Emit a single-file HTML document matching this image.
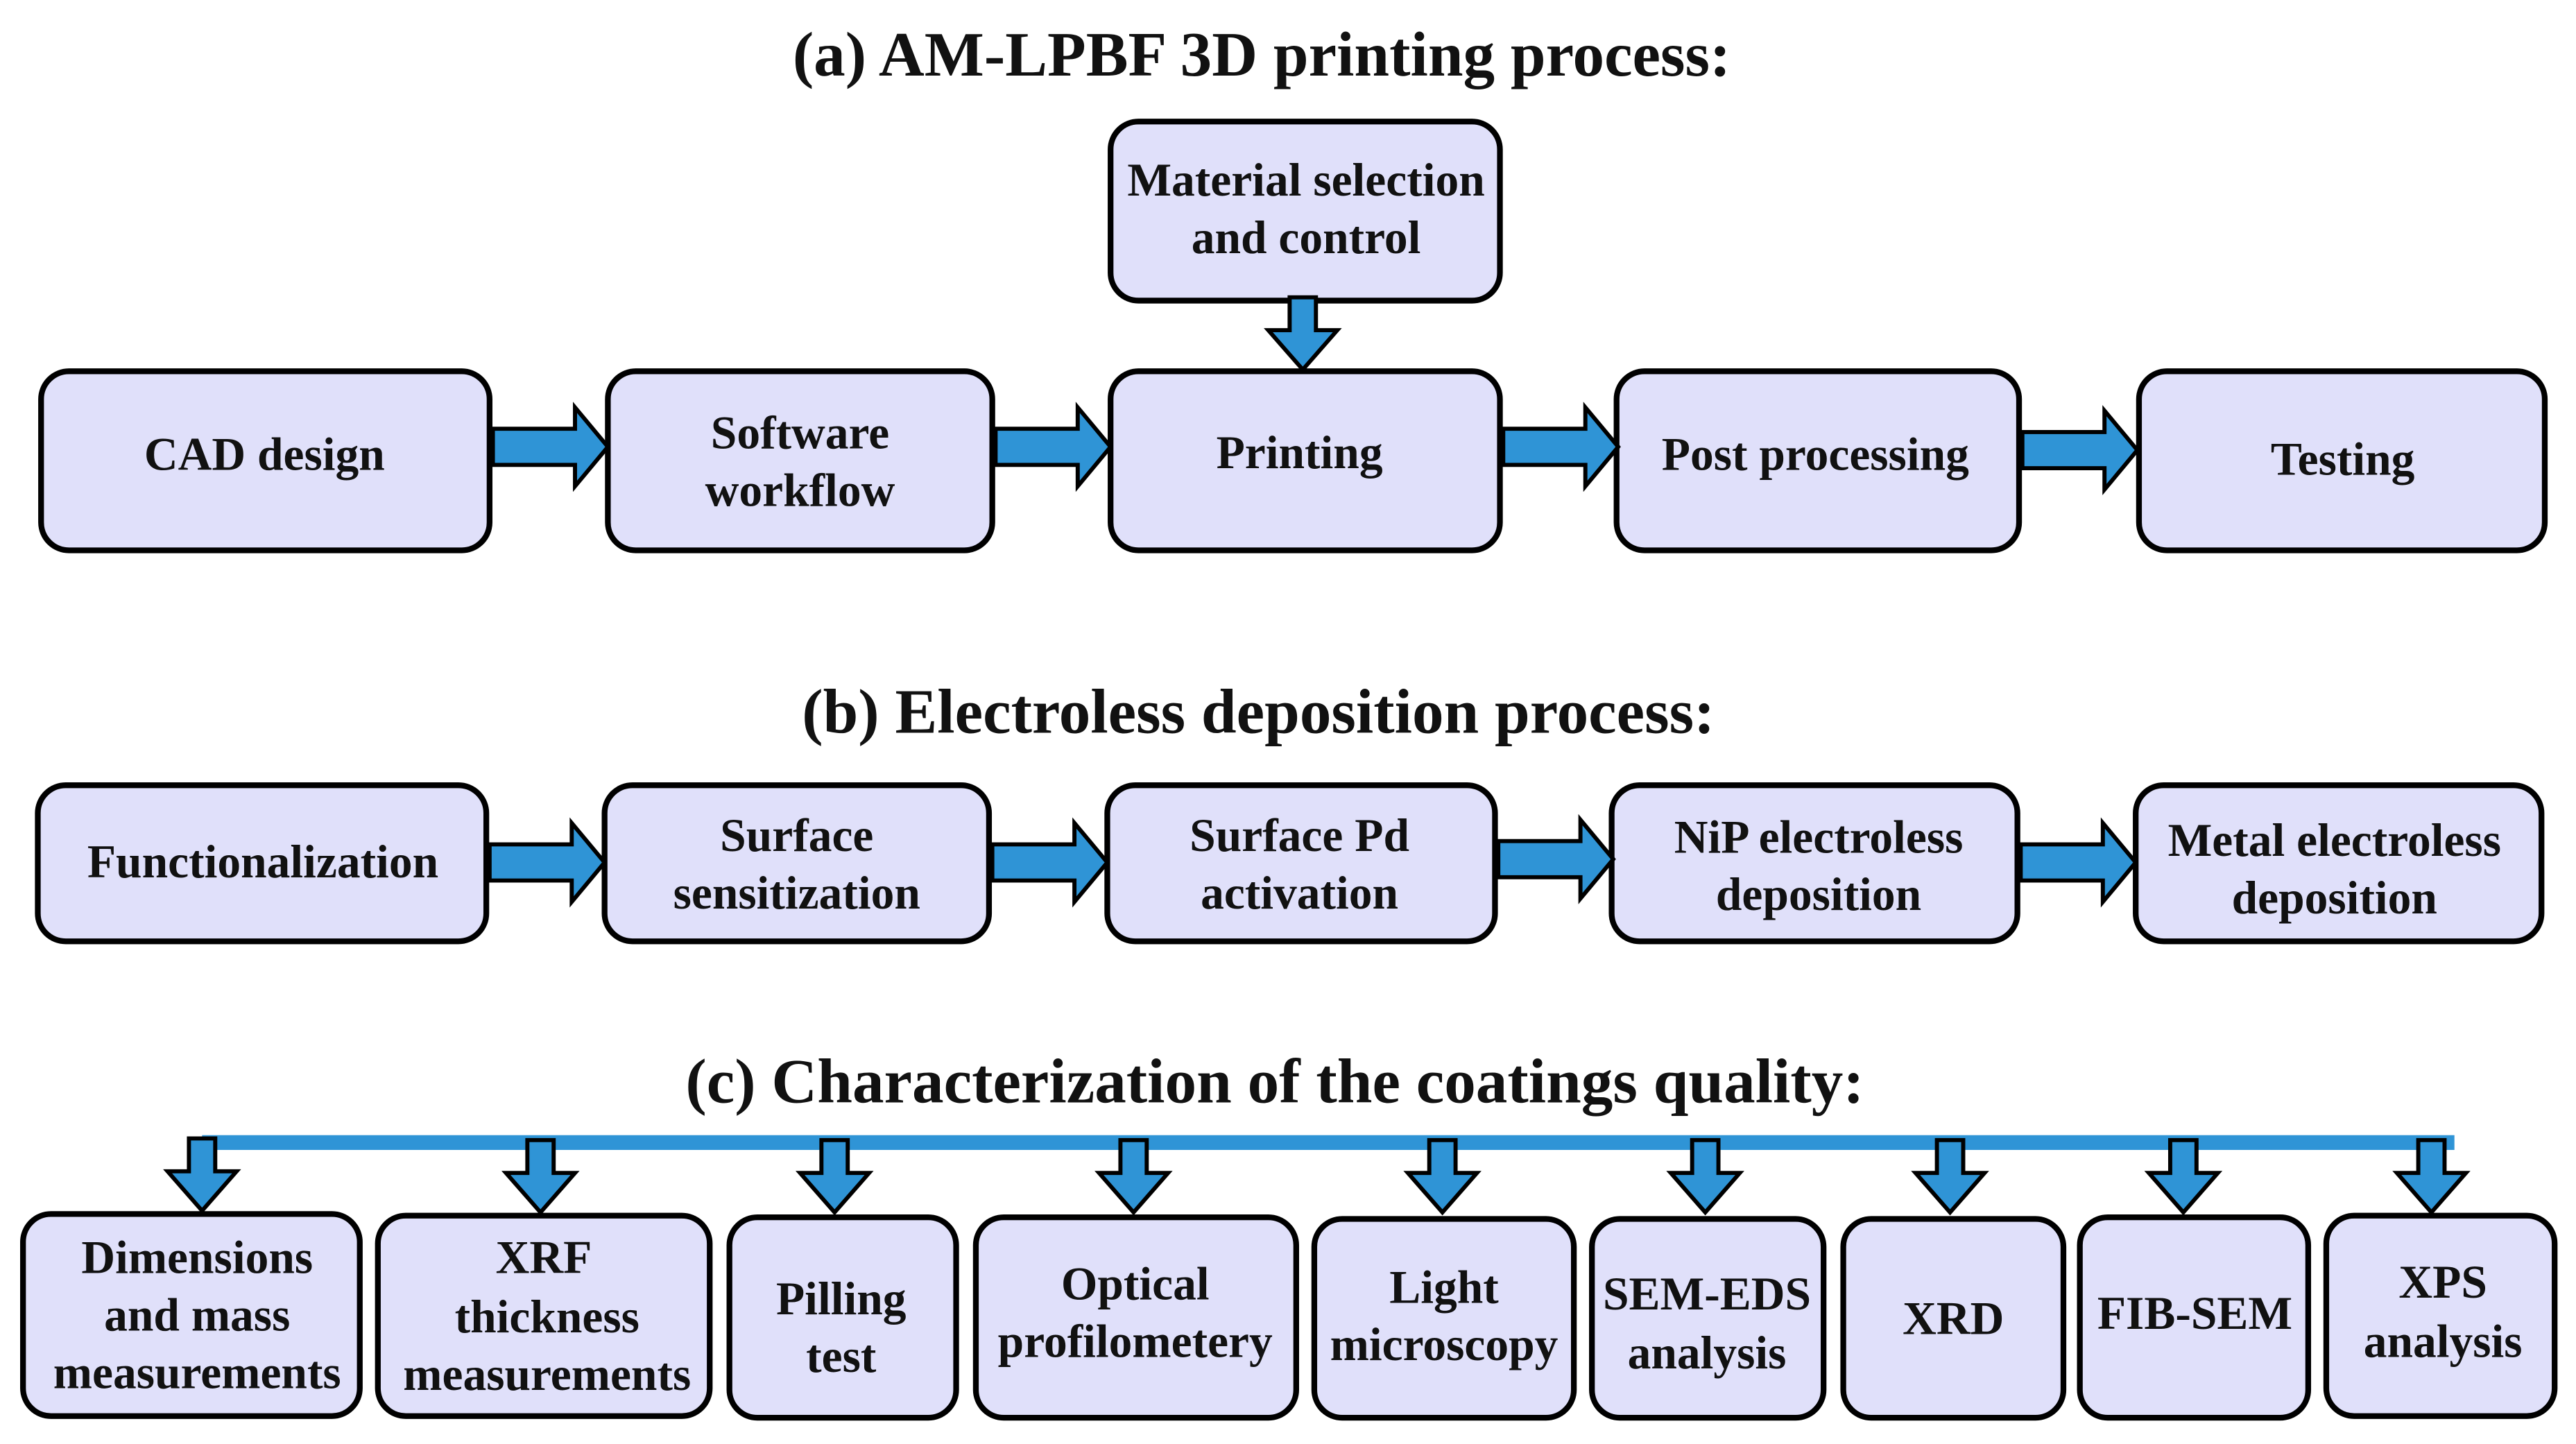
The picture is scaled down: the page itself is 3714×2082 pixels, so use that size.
<!DOCTYPE html>
<html><head><meta charset="utf-8"><style>
html,body{margin:0;padding:0;background:#fff;width:3714px;height:2082px;overflow:hidden}
svg{display:block}
text{font-family:"Liberation Serif",serif;font-weight:bold;fill:#111;text-anchor:middle}
.b{fill:#e0e0fa;stroke:#000;stroke-width:3.5}
.a{fill:#2f94d6;stroke:#000;stroke-width:2.5;stroke-linejoin:miter}
.t{font-size:28.5px}
.h{font-size:38.5px}
</style></head><body>
<svg width="3714" height="2082" viewBox="0 0 1568 879" xmlns="http://www.w3.org/2000/svg">
<defs>
<path id="ra" d="M0,-11 L50,-11 L50,-24 L70,0 L50,24 L50,11 L0,11 Z"/>
<path id="da" d="M-8,0 L8,0 L8,20 L21,20 L0,44 L-21,20 L-8,20 Z"/>
</defs>
<text class="h" x="768" y="46">(a) AM-LPBF 3D printing process:</text>
<text class="h" x="766" y="446">(b) Electroless deposition process:</text>
<text class="h" x="776" y="671">(c) Characterization of the coatings quality:</text>

<!-- row a -->
<rect class="b" x="676" y="74" width="237" height="109" rx="17"/>
<text class="t" x="795" y="119">Material selection</text><text class="t" x="795" y="154">and control</text>
<use href="#da" class="a" transform="translate(793,181)"/>
<rect class="b" x="25" y="226" width="273" height="109" rx="17"/>
<text class="t" x="161" y="286">CAD design</text>
<rect class="b" x="370" y="226" width="234" height="109" rx="17"/>
<text class="t" x="487" y="273">Software</text><text class="t" x="487" y="308">workflow</text>
<rect class="b" x="676" y="226" width="237" height="109" rx="17"/>
<text class="t" x="791" y="285">Printing</text>
<rect class="b" x="984" y="226" width="245" height="109" rx="17"/>
<text class="t" x="1105" y="286">Post processing</text>
<rect class="b" x="1302" y="226" width="247" height="109" rx="17"/>
<text class="t" x="1426" y="289">Testing</text>
<use href="#ra" class="a" transform="translate(300,272)"/>
<use href="#ra" class="a" transform="translate(606,272)"/>
<use href="#ra" class="a" transform="translate(915,272)"/>
<use href="#ra" class="a" transform="translate(1231,274)"/>

<!-- row b -->
<rect class="b" x="23" y="478" width="273" height="95" rx="17"/>
<text class="t" x="160" y="534">Functionalization</text>
<rect class="b" x="368" y="478" width="234" height="95" rx="17"/>
<text class="t" x="485" y="518">Surface</text><text class="t" x="485" y="553">sensitization</text>
<rect class="b" x="674" y="478" width="236" height="95" rx="17"/>
<text class="t" x="791" y="518">Surface Pd</text><text class="t" x="791" y="553">activation</text>
<rect class="b" x="981" y="478" width="247" height="95" rx="17"/>
<text class="t" x="1107" y="519">NiP electroless</text><text class="t" x="1107" y="554">deposition</text>
<rect class="b" x="1300" y="478" width="247" height="95" rx="17"/>
<text class="t" x="1421" y="521">Metal electroless</text><text class="t" x="1421" y="556">deposition</text>
<use href="#ra" class="a" transform="translate(298,525)"/>
<use href="#ra" class="a" transform="translate(604,525)"/>
<use href="#ra" class="a" transform="translate(912,523)"/>
<use href="#ra" class="a" transform="translate(1230,525)"/>

<!-- row c -->
<rect x="123" y="691" width="1371" height="9" fill="#2f94d6"/>
<g class="a">
<use href="#da" transform="translate(123,693)"/>
<use href="#da" transform="translate(329,694)"/>
<use href="#da" transform="translate(508,694)"/>
<use href="#da" transform="translate(690,694)"/>
<use href="#da" transform="translate(878,694)"/>
<use href="#da" transform="translate(1038,694)"/>
<use href="#da" transform="translate(1187,694)"/>
<use href="#da" transform="translate(1329,694)"/>
<use href="#da" transform="translate(1480,694)"/>
</g>
<rect class="b" x="14" y="739" width="205" height="123" rx="17"/>
<text class="t" x="120" y="775">Dimensions</text><text class="t" x="120" y="810">and mass</text><text class="t" x="120" y="845">measurements</text>
<rect class="b" x="230" y="740" width="202" height="122" rx="17"/>
<text class="t" x="331" y="775">XRF</text><text class="t" x="333" y="811">thickness</text><text class="t" x="333" y="846">measurements</text>
<rect class="b" x="444" y="741" width="138" height="122" rx="17"/>
<text class="t" x="512" y="800">Pilling</text><text class="t" x="512" y="835">test</text>
<rect class="b" x="594" y="741" width="195" height="122" rx="17"/>
<text class="t" x="691" y="791">Optical</text><text class="t" x="691" y="826">profilometery</text>
<rect class="b" x="800" y="742" width="158" height="121" rx="17"/>
<text class="t" x="879" y="793">Light</text><text class="t" x="879" y="828">microscopy</text>
<rect class="b" x="969" y="742" width="141" height="121" rx="17"/>
<text class="t" x="1039" y="797">SEM-EDS</text><text class="t" x="1039" y="833">analysis</text>
<rect class="b" x="1122" y="742" width="134" height="121" rx="17"/>
<text class="t" x="1189" y="812">XRD</text>
<rect class="b" x="1266" y="741" width="139" height="122" rx="17"/>
<text class="t" x="1336" y="809">FIB-SEM</text>
<rect class="b" x="1416" y="740" width="139" height="122" rx="17"/>
<text class="t" x="1487" y="790">XPS</text><text class="t" x="1487" y="826">analysis</text>
</svg>
</body></html>
